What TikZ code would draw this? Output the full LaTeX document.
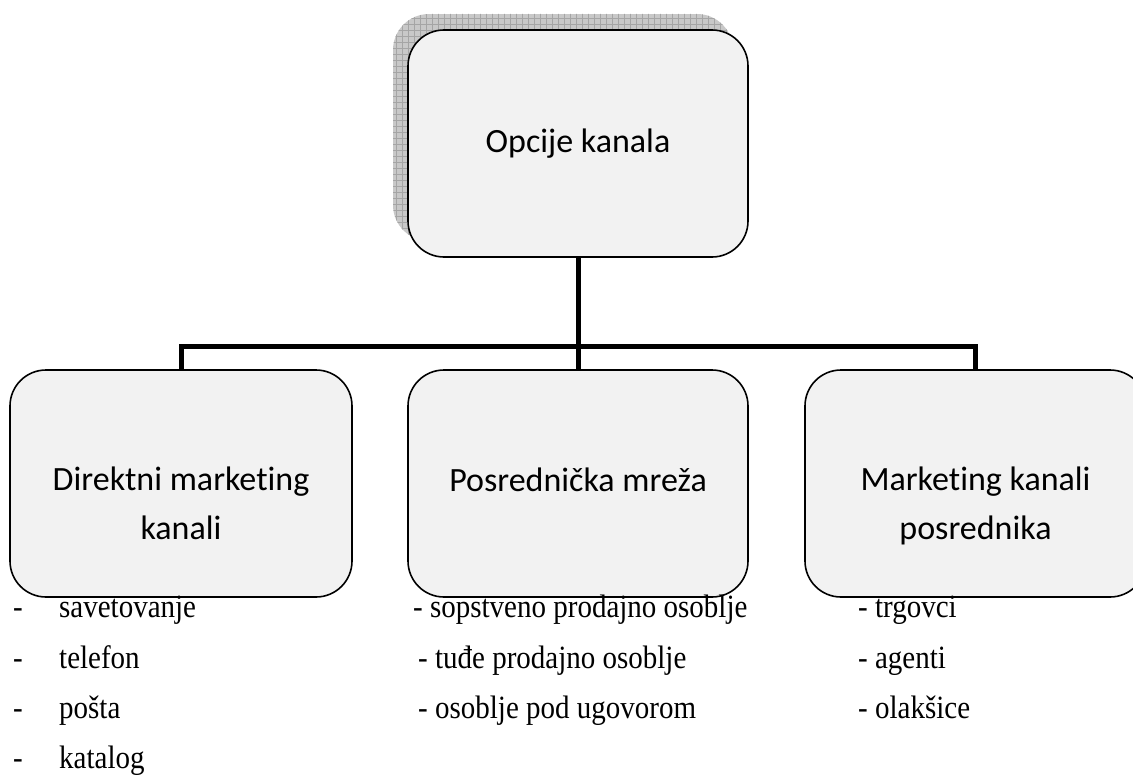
\documentclass[tikz,border=0pt]{standalone}
\usepackage{fontspec}
\setmainfont{Liberation Serif}
\newfontfamily\boxfont[Ligatures=NoCommon]{Carlito}
\usepackage{graphicx}
\definecolor{boxfill}{RGB}{242,242,242}
\definecolor{shadowfill}{RGB}{200,200,200}
\definecolor{shadowgrid}{RGB}{165,165,165}
\tikzset{
  x=1pt, y=-1pt,
  chbox/.style={draw=black, line width=1.6pt, fill=boxfill, rounded corners=36pt,
    minimum width=340pt, minimum height=227pt, inner sep=0pt},
  boxtext/.style={font=\boxfont\fontsize{34pt}{49pt}\selectfont, align=center, inner sep=0pt},
  conn/.style={draw=black, line width=5pt},
  item/.style={font=\fontsize{29pt}{35pt}\selectfont, anchor=base west, inner sep=0pt},
}
\newcommand{\tallitem}[1]{\scalebox{1}[1.12]{#1}}
\begin{document}
\begin{tikzpicture}
\path[use as bounding box, clip] (0,0) rectangle (1133,776);

% hatched drop shadow behind the root box
\begin{scope}
  \path[clip, rounded corners=36pt] (393,14) rectangle (733,241);
  \fill[shadowfill] (393,14) rectangle (733,241);
  \draw[shadowgrid, line width=0.7pt, step=6pt] (390,10) grid (736,244);
\end{scope}

% boxes
\node[chbox] (top)   at (578,143.5) {};
\node[chbox, minimum width=342pt] (left)  at (181,483.5) {};
\node[chbox] (mid)   at (578,483.5) {};
\node[chbox, minimum width=341pt] (right) at (975.5,483.5) {};

% box labels
\node[boxtext, anchor=base] (ttop) at (578,152) {Opcije kanala};
\node[boxtext] (tleft) at (181,503.5) {Direktni marketing\\kanali};
\node[boxtext, anchor=base] (tmid) at (578,491) {Posrednička mreža};
\node[boxtext] (tright) at (975.5,506) {Marketing kanali\\posrednika};

% connectors
\coordinate (bus) at (578,346);
\draw[conn] (top.south) -- (mid.north);
\draw[conn] (left.north) |- (bus) -| (right.north);

% lists under the boxes
\node[item] (l1) at (13,617)   {\tallitem{\makebox[46pt][l]{-}savetovanje}};
\node[item] (l2) at (13,668)   {\tallitem{\makebox[46pt][l]{-}telefon}};
\node[item] (l3) at (13,718.5) {\tallitem{\makebox[46pt][l]{-}pošta}};
\node[item] (l4) at (13,768.5) {\tallitem{\makebox[46pt][l]{-}katalog}};

\node[item] (m1) at (413,617)   {\tallitem{- sopstveno prodajno osoblje}};
\node[item] (m2) at (418,668)   {\tallitem{- tuđe prodajno osoblje}};
\node[item] (m3) at (418,718.5) {\tallitem{- osoblje pod ugovorom}};

\node[item] (r1) at (858,617)   {\tallitem{- trgovci}};
\node[item] (r2) at (858,668)   {\tallitem{- agenti}};
\node[item] (r3) at (858,718.5) {\tallitem{- olakšice}};
\end{tikzpicture}
\end{document}
